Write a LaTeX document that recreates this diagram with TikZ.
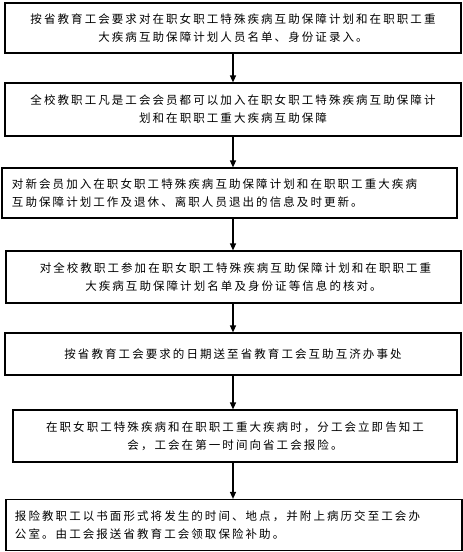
\documentclass[tikz,border=0pt]{standalone}
\usepackage{fontspec}
\setmainfont{Noto Sans CJK SC}[LetterSpace=18]
\usetikzlibrary{arrows.meta}
\begin{document}
\begin{tikzpicture}[x=1pt,y=-1pt,
  box/.style={draw, line width=1.2pt, inner sep=0pt, font=\fontsize{11.5}{18}\selectfont},
  boxc/.style={box, align=center, text width=440pt},
  arr/.style={line width=1.2pt, -{Triangle[length=7pt,width=6pt]}}]
\useasboundingbox (0,0) rectangle (463,552);
\coordinate (ax) at (233,0);
\node[boxc, minimum width=456pt, minimum height=50pt] (b1) at (233,28)
  {按省教育工会要求对在职女职工特殊疾病互助保障计划和在职职工重\\大疾病互助保障计划人员名单、身份证录入。};
\node[boxc, minimum width=456pt, minimum height=53pt] (b2) at (233,109.5)
  {全校教职工凡是工会会员都可以加入在职女职工特殊疾病互助保障计\\划和在职职工重大疾病互助保障};
\node[box, align=left, text width=435pt, minimum width=455pt, minimum height=50pt] (b3) at (229.5,193)
  {对新会员加入在职女职工特殊疾病互助保障计划和在职职工重大疾病\\互助保障计划工作及退休、离职人员退出的信息及时更新。};
\node[boxc, minimum width=455pt, minimum height=52pt] (b4) at (233.5,277)
  {\hspace*{4pt}对全校教职工参加在职女职工特殊疾病互助保障计划和在职职工重\\大疾病互助保障计划名单及身份证等信息的核对。};
\node[boxc, minimum width=456pt, minimum height=42pt] (b5) at (233,354)
  {按省教育工会要求的日期送至省教育工会互助互济办事处};
\node[boxc, minimum width=444pt, minimum height=52pt] (b6) at (235,436)
  {在职女职工特殊疾病和在职职工重大疾病时，分工会立即告知工\\会，工会在第一时间向省工会报险。};
\node[box, align=left, text width=438pt, minimum width=456pt, minimum height=51pt] (b7) at (234,525)
  {报险教职工以书面形式将发生的时间、地点，并附上病历交至工会办\\公室。由工会报送省教育工会领取保险补助。};
\draw[arr] (b1.south -| ax) -- (b2.north -| ax);
\draw[arr] (b2.south -| ax) -- (b3.north -| ax);
\draw[arr] (b3.south -| ax) -- (b4.north -| ax);
\draw[arr] (b4.south -| ax) -- (b5.north -| ax);
\draw[arr] (b5.south -| ax) -- (b6.north -| ax);
\draw[arr] (b6.south -| ax) -- (b7.north -| ax);
\end{tikzpicture}
\end{document}
